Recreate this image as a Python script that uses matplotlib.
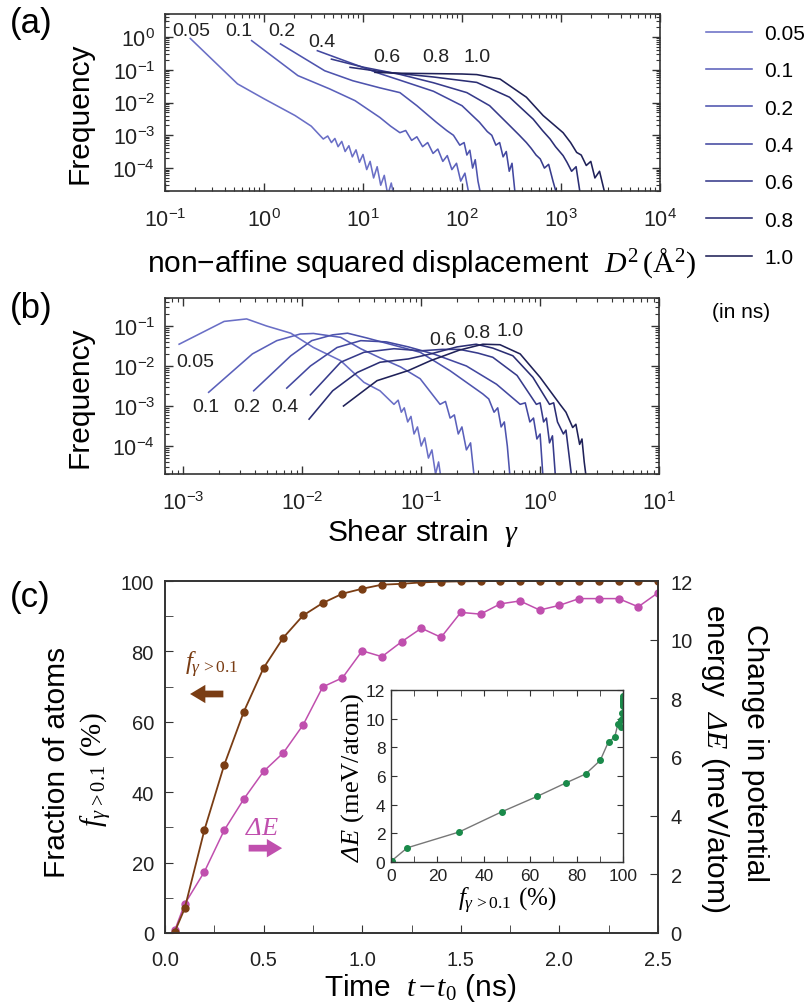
import matplotlib
matplotlib.use("Agg")
import matplotlib.pyplot as plt
from matplotlib.ticker import LogLocator, MultipleLocator, NullFormatter

plt.rcParams['font.family'] = ['Liberation Sans', 'DejaVu Sans']
# serif italic for math symbols (so that Delta is slanted too), upright serif via \mathsf
plt.rcParams['mathtext.fontset'] = 'custom'
plt.rcParams['mathtext.rm'] = 'Liberation Serif:italic'
plt.rcParams['mathtext.it'] = 'Liberation Serif:italic'
plt.rcParams['mathtext.sf'] = 'Liberation Serif'
plt.rcParams['mathtext.default'] = 'it'

# ---- data ----
times = ['0.05', '0.1', '0.2', '0.4', '0.6', '0.8', '1.0']
colors = ['#6a6fc6', '#5b61bb', '#4e54ae', '#4348a0', '#373b8b', '#2b2e74', '#1f2158']

# (a) non-affine squared displacement histograms
a_x = [
    [0.18, 0.54, 1.0, 2.06, 3.0, 3.97, 4.4, 4.8, 5.2, 5.6, 6.1, 6.6, 7.2, 7.8, 8.5, 9.2, 10.0,
     10.9, 11.8, 12.8, 13.9, 15.1, 16.4, 17.8, 19.3, 21.0],
    [0.75, 2.2, 4.6, 8.3, 14.8, 19, 23.6, 27, 31, 35, 40, 45, 51, 57, 64, 71, 79, 88, 97, 107, 118],
    [1.47, 4.1, 7.9, 14.8, 23.6, 35, 55, 70, 82, 95, 105, 112, 120, 128, 136, 145, 155],
    [3.46, 8.0, 15, 23.6, 51.5, 100, 150, 180, 200, 220, 240, 260, 280, 300, 320, 345],
    [4.8, 10, 23.6, 51.5, 112, 190, 302, 380, 447, 500, 560, 617, 680, 750, 830, 910],
    [7.4, 15, 23.6, 51.5, 141, 302, 524, 650, 776, 880, 1050, 1150, 1280, 1420, 1570],
    [13.2, 23.6, 50, 100, 141, 242, 447, 660, 1050, 1250, 1440, 1600, 1800, 2000, 2200, 2450, 2800],
]
a_y = [
    [0.9, 0.037, 0.013, 0.0040, 0.0019, 7.7e-4, 9.5e-4, 6.0e-4, 8.0e-4, 4.5e-4, 6.5e-4, 3.2e-4, 4.8e-4,
     2.2e-4, 3.6e-4, 1.5e-4, 2.6e-4, 9e-5, 1.6e-4, 5e-5, 1.1e-4, 3e-5, 6e-5, 1.5e-5, 3.5e-5, 1e-5],
    [0.77, 0.066, 0.026, 0.0114, 0.0035, 0.0019, 1.2e-3, 1.4e-3, 7e-4, 9e-4, 4.5e-4, 6e-4, 2.8e-4,
     3.8e-4, 1.6e-4, 2.4e-4, 9e-5, 1.4e-4, 4e-5, 7e-5, 1.5e-5],
    [0.61, 0.093, 0.046, 0.028, 0.020, 0.008, 0.0025, 1.4e-3, 1.0e-3, 5e-4, 6e-4, 2.5e-4, 3.5e-4,
     1e-4, 1.8e-4, 4e-5, 1.5e-5],
    [0.38, 0.15, 0.075, 0.048, 0.022, 0.008, 0.0025, 1.3e-3, 1.0e-3, 5e-4, 6e-4, 2.2e-4, 3.2e-4,
     8e-5, 1.4e-4, 1.5e-5],
    [0.21, 0.12, 0.072, 0.040, 0.020, 0.008, 0.002, 1.0e-3, 6e-4, 4e-4, 2.5e-4, 1.9e-4, 1.0e-4,
     1.3e-4, 4e-5, 1.5e-5],
    [0.118, 0.088, 0.076, 0.060, 0.041, 0.0145, 0.0031, 1.4e-3, 7.7e-4, 4.5e-4, 2.4e-4, 1.5e-4,
     8e-5, 1.1e-4, 1.5e-5],
    [0.083, 0.078, 0.076, 0.074, 0.071, 0.052, 0.0145, 0.004, 1.2e-3, 6e-4, 3e-4, 2.5e-4, 1.2e-4,
     1.6e-4, 5e-5, 8e-5, 1.5e-5],
]

# (b) shear strain histograms
b_x = [
    [9.2e-4, 2.2e-3, 3.4e-3, 5e-3, 8e-3, 0.0124, 0.021, 0.033, 0.045, 0.059, 0.064, 0.068, 0.072,
     0.077, 0.082, 0.087, 0.093, 0.1, 0.107, 0.115, 0.123, 0.132, 0.14, 0.15],
    [1.63e-3, 3.8e-3, 6.1e-3, 9.6e-3, 0.0124, 0.021, 0.031, 0.045, 0.067, 0.098, 0.144, 0.16, 0.175,
     0.19, 0.205, 0.22, 0.24, 0.26, 0.28],
    [3.9e-3, 8e-3, 0.012, 0.018, 0.024, 0.035, 0.059, 0.098, 0.175, 0.33, 0.37, 0.41, 0.44, 0.47,
     0.5, 0.53, 0.56],
    [7.4e-3, 0.0117, 0.0196, 0.031, 0.051, 0.078, 0.127, 0.24, 0.43, 0.68, 0.75, 0.82, 0.88, 0.94,
     1.0, 1.06],
    [0.0117, 0.021, 0.033, 0.059, 0.1, 0.15, 0.21, 0.3, 0.4, 0.64, 0.93, 1.0, 1.07, 1.13, 1.2, 1.27,
     1.35],
    [0.0114, 0.018, 0.029, 0.045, 0.078, 0.12, 0.2, 0.29, 0.4, 0.59, 0.87, 1.2, 1.3, 1.4, 1.57, 1.65,
     1.75, 1.85],
    [0.0222, 0.0425, 0.078, 0.12, 0.21, 0.33, 0.46, 0.68, 1.0, 1.47, 1.65, 1.88, 2.0, 2.15, 2.25,
     2.35, 2.45],
]
b_y = [
    [0.035, 0.13, 0.15, 0.10, 0.066, 0.029, 0.0136, 0.0039, 0.0024, 1.1e-3, 1.4e-3, 7e-4, 9e-4, 4e-4,
     5.5e-4, 2e-4, 3e-4, 1e-4, 1.6e-4, 5e-5, 8e-5, 2e-5, 4e-5, 1e-5],
    [2.2e-3, 0.02, 0.043, 0.063, 0.065, 0.052, 0.027, 0.016, 0.0095, 0.0048, 1.1e-3, 1.3e-3, 5e-4,
     6e-4, 2e-4, 3e-4, 8e-5, 1.2e-4, 1.5e-5],
    [2.4e-3, 0.018, 0.043, 0.060, 0.066, 0.050, 0.033, 0.022, 0.0076, 0.002, 1.5e-3, 7e-4, 9e-4,
     3e-4, 4e-4, 1e-4, 1.5e-5],
    [2.8e-3, 0.010, 0.029, 0.043, 0.040, 0.030, 0.020, 0.010, 0.0035, 1.1e-3, 1.2e-3, 4e-4, 5e-4,
     1.5e-4, 2e-4, 1.5e-5],
    [1.9e-3, 0.0124, 0.022, 0.027, 0.024, 0.026, 0.026, 0.021, 0.0165, 0.0058, 1.1e-3, 1.2e-3, 4e-4,
     5e-4, 1.2e-4, 1.8e-4, 1.5e-5],
    [4.7e-4, 2.4e-3, 6.9e-3, 0.0124, 0.015, 0.020, 0.030, 0.035, 0.028, 0.018, 0.0052, 1.1e-3,
     1.2e-3, 4e-4, 2e-4, 2.5e-4, 6e-5, 1.5e-5],
    [1e-3, 4.3e-3, 7.7e-3, 0.0136, 0.025, 0.035, 0.034, 0.020, 0.0052, 1.1e-3, 7e-4, 2.9e-4, 3.5e-4,
     1.1e-4, 1.5e-4, 4e-5, 1.5e-5],
]

# (c) time evolution
t_ns = [0.05, 0.1, 0.2, 0.3, 0.4, 0.5, 0.6, 0.7, 0.8, 0.9, 1.0, 1.1, 1.2, 1.3, 1.4, 1.5, 1.6, 1.7,
        1.8, 1.9, 2.0, 2.1, 2.2, 2.3, 2.4, 2.5]
frac = [0.4, 7.0, 29.3, 47.7, 62.9, 75.3, 83.9, 90.2, 93.75, 96.4, 97.8, 98.95, 99.2, 99.6, 99.8,
        99.9, 99.95, 100, 100, 100, 100, 100, 100, 100, 100, 100]
dE = [0.10, 0.99, 2.09, 3.50, 4.57, 5.51, 6.14, 7.09, 8.39, 8.70, 9.62, 9.42, 9.93, 10.39, 10.08,
      10.93, 10.87, 11.22, 11.32, 11.01, 11.17, 11.40, 11.40, 11.40, 11.12, 11.60]

fig = plt.figure(figsize=(8.11, 10.03), dpi=100)
W, H = 811, 1003


def px_axes(l, t, r, b):
    return fig.add_axes([l / W, 1 - b / H, (r - l) / W, (b - t) / H])


def log_style(ax):
    ax.tick_params(which='both', direction='in', top=True, right=True, labelsize=15.5,
                   colors='#333333', labelcolor='#222222')
    ax.tick_params(which='major', length=6, width=1)
    ax.tick_params(axis='x', which='major', pad=12)
    ax.tick_params(axis='y', which='major', pad=7)
    ax.tick_params(which='minor', length=3, width=0.8)
    for s in ax.spines.values():
        s.set_color('#333333')
        s.set_linewidth(1.2)


F_LAB = '$f_{\\gamma\\,\\mathsf{>0.1}}$ $\\mathsf{(\\%)}$'

# ---- panel (a) ----
axa = px_axes(165, 15, 660, 192)
lines = []
for xs, ys, c in zip(a_x, a_y, colors):
    ln, = axa.plot(xs, ys, color=c, lw=1.15)
    lines.append(ln)
axa.set_xscale('log')
axa.set_yscale('log')
axa.set_xlim(0.1, 1e4)
axa.set_ylim(2e-5, 5)
axa.xaxis.set_major_locator(LogLocator(base=10, numticks=10))
axa.xaxis.set_minor_locator(LogLocator(base=10, subs=range(2, 10), numticks=20))
axa.yaxis.set_major_locator(LogLocator(base=10, numticks=10))
axa.yaxis.set_minor_locator(LogLocator(base=10, subs=range(2, 10), numticks=20))
axa.yaxis.set_minor_formatter(NullFormatter())
axa.xaxis.set_minor_formatter(NullFormatter())
axa.set_yticks([1e-4, 1e-3, 1e-2, 1e-1, 1])
log_style(axa)
a_lab = [(0.183, 1.56, '0.05'), (0.56, 1.56, '0.1'), (1.51, 1.56, '0.2'), (3.8, 0.7, '0.4'),
         (17.4, 0.245, '0.6'), (55, 0.245, '0.8'), (142, 0.245, '1.0')]
for x, y, s in a_lab:
    axa.text(x, y, s, fontsize=14, ha='center', va='center', color='#222222')
fig.text(79 / W, 1 - 113 / H, 'Frequency', rotation=90, fontsize=21.5, ha='center', va='center')
fig.text(422 / W, 1 - 263 / H,
         'non\u2212affine squared displacement  $D^{\\mathsf{2}}\\,\\mathsf{(\u00c5^{2})}$',
         fontsize=21.5, ha='center', va='center')

# ---- panel (b) ----
axb = px_axes(165, 299, 659, 475)
for xs, ys, c in zip(b_x, b_y, colors):
    axb.plot(xs, ys, color=c, lw=1.15)
axb.set_xscale('log')
axb.set_yscale('log')
axb.set_xlim(7.0e-4, 10)
axb.set_ylim(2e-5, 0.5)
axb.xaxis.set_major_locator(LogLocator(base=10, numticks=10))
axb.xaxis.set_minor_locator(LogLocator(base=10, subs=range(2, 10), numticks=20))
axb.yaxis.set_minor_locator(LogLocator(base=10, subs=range(2, 10), numticks=20))
axb.xaxis.set_minor_formatter(NullFormatter())
axb.yaxis.set_minor_formatter(NullFormatter())
axb.set_yticks([1e-4, 1e-3, 1e-2, 1e-1])
log_style(axb)
b_lab = [(1.25e-3, 0.0133, '0.05'), (1.55e-3, 9.6e-4, '0.1'), (3.4e-3, 9.6e-4, '0.2'),
         (7.2e-3, 9.6e-4, '0.4'), (0.152, 0.045, '0.6'), (0.294, 0.07, '0.8'), (0.56, 0.076, '1.0')]
for x, y, s in b_lab:
    axb.text(x, y, s, fontsize=14, ha='center', va='center', color='#222222')
fig.text(79 / W, 1 - 397 / H, 'Frequency', rotation=90, fontsize=21.5, ha='center', va='center')
fig.text(423 / W, 1 - 533 / H, 'Shear strain  $\\gamma$', fontsize=21.5, ha='center', va='center')

# legend for (a)/(b)
fig.legend(lines, times, loc='upper left', bbox_to_anchor=(706 / W, 1 - 25 / H), frameon=False,
           fontsize=15, handlelength=2.2, handletextpad=0.6, labelspacing=0.88, borderpad=0,
           borderaxespad=0)
fig.text(712 / W, 1 - 312 / H, '(in ns)', fontsize=15, ha='left', va='center')

# panel letters
for y, s in [(24, '(a)'), (309, '(b)'), (598, '(c)')]:
    fig.text(10 / W, 1 - y / H, s, fontsize=25, ha='left', va='center')

# ---- panel (c) ----
brown = '#7a3d14'
pink = '#c04fae'
axc = px_axes(165, 582, 658, 934)
axr = axc.twinx()
axr.plot(t_ns, dE, color=pink, lw=1.1, marker='o', ms=5, zorder=2)
axc.set_zorder(axr.get_zorder() + 1)
axc.patch.set_visible(False)
axc.plot(t_ns, frac, color=brown, lw=1.3, marker='o', ms=5)
axc.set_xlim(0, 2.5)
axc.set_ylim(0, 100)
axr.set_ylim(0, 12)
axc.xaxis.set_major_locator(MultipleLocator(0.5))
axc.xaxis.set_minor_locator(MultipleLocator(0.25))
axc.yaxis.set_major_locator(MultipleLocator(20))
axc.yaxis.set_minor_locator(MultipleLocator(10))
axr.yaxis.set_major_locator(MultipleLocator(2))
axc.xaxis.set_major_formatter(plt.FormatStrFormatter('%.1f'))
axc.tick_params(which='both', direction='in', top=False, right=False, labelsize=14.5,
                colors='#333333', labelcolor='#222222')
axc.tick_params(axis='x', which='major', length=6, pad=12)
axc.tick_params(axis='x', which='minor', length=6)
axc.tick_params(axis='y', which='major', length=6, pad=8)
axc.tick_params(axis='y', which='minor', length=6)
axr.tick_params(direction='in', length=6, labelsize=14.5, pad=9, colors='#333333',
                labelcolor='#222222')
for a in (axc, axr):
    for s in a.spines.values():
        s.set_color('#333333')
        s.set_linewidth(1.2)

arrow_style = 'simple,head_length=0.5,head_width=0.6,tail_width=0.22'
axc.text(0.238, 76.4, '$f_{\\gamma\\,\\mathsf{>0.1}}$', color=brown, fontsize=18, ha='center',
         va='center')
axc.annotate('', xy=(0.113, 67.9), xytext=(0.31, 67.9),
             arrowprops=dict(arrowstyle=arrow_style, mutation_scale=22, color=brown, lw=0))
axc.text(0.49, 30.1, '$\\Delta E$', color=pink, fontsize=19, ha='center', va='center')
axc.annotate('', xy=(0.608, 24.1), xytext=(0.41, 24.1),
             arrowprops=dict(arrowstyle=arrow_style, mutation_scale=22, color=pink, lw=0))

fig.text(57 / W, 1 - 762 / H, 'Fraction of atoms', rotation=90, fontsize=21.5, ha='center',
         va='center')
fig.text(97 / W, 1 - 770 / H, F_LAB, rotation=90, fontsize=21, ha='center', va='center')
fig.text(755 / W, 1 - 753 / H, 'Change in potential', rotation=270, fontsize=21.5, ha='center',
         va='center')
fig.text(715 / W, 1 - 758 / H, 'energy  $\\Delta E$ (meV/atom)', rotation=270,
         fontsize=21.5, ha='center', va='center')
fig.text(420 / W, 1 - 988 / H, 'Time  $t\\!-\\!t_{\\mathsf{0}}$ (ns)', fontsize=21.5, ha='center',
         va='center')

# inset
axi = px_axes(391, 691, 623, 863)
axi.plot(frac, dE, color='#777777', lw=1.0, marker='o', ms=4, mfc='#1a8a4a', mec='#1a8a4a')
axi.set_xlim(0, 100)
axi.set_ylim(0, 12)
axi.xaxis.set_major_locator(MultipleLocator(20))
axi.xaxis.set_minor_locator(MultipleLocator(10))
axi.yaxis.set_major_locator(MultipleLocator(2))
axi.tick_params(which='both', direction='in', top=True, right=True, labelsize=12.5, pad=4,
                colors='#333333', labelcolor='#222222')
axi.tick_params(which='both', length=4)
for s in axi.spines.values():
    s.set_color('#333333')
    s.set_linewidth(1.0)
axi.set_xlabel(F_LAB, fontsize=18, labelpad=2)
axi.set_ylabel('$\\Delta E$ $\\mathsf{(meV/atom)}$', fontsize=19, labelpad=0)

fig.savefig('out.png', dpi=100)
